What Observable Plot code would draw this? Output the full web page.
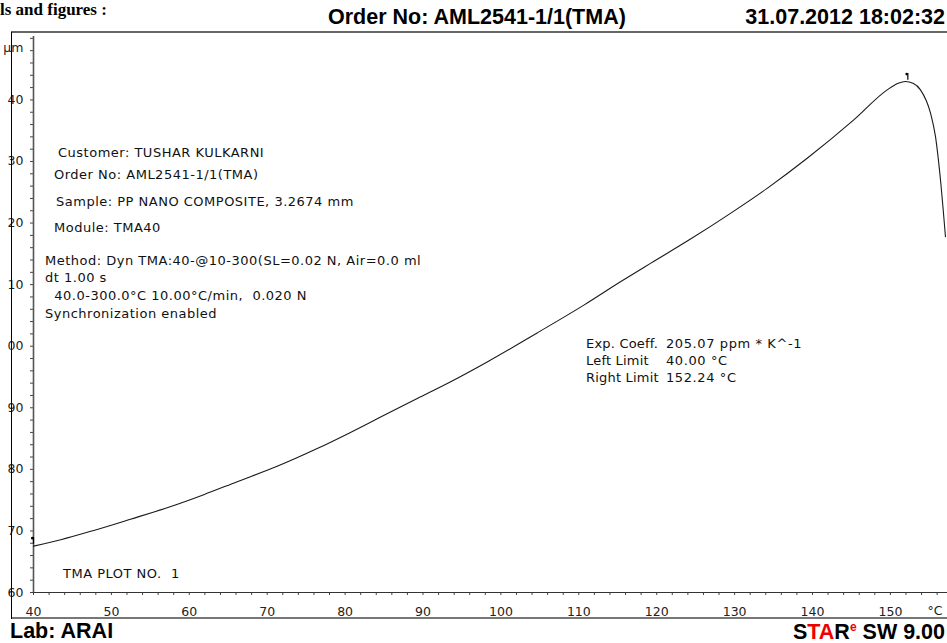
<!DOCTYPE html>
<html><head><meta charset="utf-8">
<script src="https://cdn.jsdelivr.net/npm/d3@7"></script>
<script src="https://cdn.jsdelivr.net/npm/@observablehq/plot@0.6"></script>
<style>
body{margin:0;background:#fff;}
#page{position:relative;width:947px;height:643px;overflow:hidden;background:#fff;font-family:"DejaVu Sans",sans-serif;color:#111;}
.t{position:absolute;white-space:pre;font-size:13px;letter-spacing:0.5px;line-height:1;transform:translateY(-50%);}
.r{position:absolute;white-space:pre;font-size:13px;letter-spacing:0.2px;line-height:1;transform:translateY(-50%);}
.h{position:absolute;white-space:pre;font-family:"Liberation Sans",Arial,sans-serif;font-weight:bold;font-size:21.5px;line-height:1;transform:translateY(-50%);color:#000;}
#chart{position:absolute;left:0px;top:33px;}
.line{position:absolute;}
</style></head>
<body><div id="page"></div>
<script>
// Temperature (°C) and probe position / length change (µm)
const temps   = [40.0, 43.5, 47.74, 52.45, 57.16, 61.86, 66.15, 71.28, 76.42, 80.69, 84.12, 89.26, 93.8, 98.24, 104.66, 110.65, 115.35, 119.2, 124.34, 129.47, 134.18, 139.32, 145.3, 149.59, 151.0, 151.94, 152.9, 153.86, 155.15, 155.79, 156.43, 157.07];
const lengths = [67.53, 68.57, 70.08, 71.9, 73.77, 75.89, 78.0, 80.49, 83.37, 86.0, 88.2, 91.5, 94.4, 97.45, 102.16, 106.67, 110.46, 113.45, 117.4, 121.58, 125.64, 130.52, 136.75, 141.63, 142.7, 142.98, 142.7, 141.63, 137.84, 134.03, 127.0, 117.77];
const xMinorTicks = d3.range(40, 157, 2);
const xLabelTicks = [40, 50, 60, 70, 80, 90, 100, 110, 120, 130, 140, 150];
const yMinorTicks = d3.range(60, 151, 2);
const yLabelTicks = [60, 70, 80, 90, 100, 110, 120, 130, 140];
// the report crops the y labels to their last two digits ("40" for 140, "00" for 100)
const yLabelText = ["60", "70", "80", "90", "00", "10", "20", "30", "40"];
const limits = [40.0, 152.24];
const xUnit = "°C";
const yUnit = "µm";

const infoLines = [
  ["Customer: TUSHAR KULKARNI", 58, 152],
  ["Order No: AML2541-1/1(TMA)", 54, 174],
  ["Sample: PP NANO COMPOSITE, 3.2674 mm", 56, 201],
  ["Module: TMA40", 54, 227],
  ["Method: Dyn TMA:40-@10-300(SL=0.02 N, Air=0.0 ml", 45, 260],
  ["dt 1.00 s", 45, 277],
  ["  40.0-300.0°C 10.00°C/min,  0.020 N", 45, 295],
  ["Synchronization enabled", 45, 313],
  ["TMA PLOT NO.  1", 63, 573]
];
const resultLabels = ["Exp. Coeff.", "Left Limit", "Right Limit"];
const resultValues = ["205.07 ppm * K^-1", "40.00 °C", "152.24 °C"];

const curve = temps.map((t, i) => ({t, v: lengths[i]}));
const interp = t => {
  const i = d3.bisectLeft(temps, t);
  if (i <= 0) return lengths[0];
  const a = i - 1, f = (t - temps[a]) / (temps[i] - temps[a]);
  return lengths[a] + f * (lengths[i] - lengths[a]);
};
const limitMarks = limits.map(t => ({t, v: interp(t)}));
const yLabelMap = new Map(yLabelTicks.map((v, i) => [v, yLabelText[i]]));

const page = document.getElementById("page");

const chart = Plot.plot({
  width: 947, height: 585,
  marginLeft: 33, marginRight: 0, marginTop: 3, marginBottom: 26,
  x: {domain: [40, 157.33]},
  y: {domain: [60, 150.3]},
  style: {fontFamily: "DejaVu Sans, sans-serif", fontSize: "12.5px", color: "#222", background: "transparent"},
  marks: [
    Plot.axisX(xMinorTicks, {tickSize: 3, tickFormat: () => "", stroke: "#444", label: null}),
    Plot.axisX(xLabelTicks, {tickSize: 0, tickPadding: 15, label: null, fill: "#222"}),
    Plot.axisY(yMinorTicks, {tickSize: 3, tickFormat: () => "", stroke: "#444", label: null}),
    Plot.axisY(yLabelTicks, {tickSize: 0, tickPadding: 10, label: null, fill: "#222", tickFormat: d => yLabelMap.get(d)}),
    Plot.ruleX([40], {stroke: "#555", strokeWidth: 1.6}),
    Plot.ruleY([60], {stroke: "#333", strokeWidth: 1.2}),
    Plot.line(curve, {x: "t", y: "v", stroke: "#1a1a1a", strokeWidth: 1.1, curve: "monotone-x"}),
    Plot.ruleX(limitMarks, {x: "t", y1: d => d.v + 0.3, y2: d => d.v + 1.4, stroke: "#000", strokeWidth: 1.2}),
    Plot.dot(limitMarks, {x: "t", y: d => d.v + 1.3, r: 1.3, fill: "#000", dx: -1.2}),
    Plot.text([yUnit], {frameAnchor: "top-left", dx: -10, dy: 7, textAnchor: "end", fill: "#222"}),
    Plot.text([xUnit], {frameAnchor: "bottom-right", dx: -5, dy: 22, textAnchor: "end", fill: "#222"})
  ]
});
chart.id = "chart";
page.appendChild(chart);

function addDiv(cls, text, x, y, extra) {
  const d = document.createElement("div");
  d.className = cls;
  d.textContent = text;
  d.style.left = x + "px";
  d.style.top = y + "px";
  if (extra) Object.assign(d.style, extra);
  page.appendChild(d);
  return d;
}
infoLines.forEach(([s, x, y]) => addDiv("t", s, x, y));
resultLabels.forEach((s, i) => addDiv("r", s, 586, 343 + i * 17));
resultValues.forEach((s, i) => addDiv("r", s, 666, 343 + i * 17, {letterSpacing: "0.6px"}));

// frame lines of the report page
const lines = [
  {left: "11px", top: "31px", width: "936px", height: "0px", borderTop: "2px solid #666"},
  {left: "11px", top: "617px", width: "936px", height: "0px", borderTop: "2px solid #777"},
  {left: "11px", top: "32px", width: "0px", height: "587px", borderLeft: "1px solid #000"}
];
lines.forEach(st => { const d = document.createElement("div"); d.className = "line"; Object.assign(d.style, st); page.appendChild(d); });

// header / footer
addDiv("h", "ls and figures :", 0, 9, {fontFamily: "Liberation Serif, serif", fontSize: "17px"});
addDiv("h", "Order No: AML2541-1/1(TMA)", 328, 18);
const date = addDiv("h", "31.07.2012 18:02:32", 0, 18);
date.style.left = ""; date.style.right = "2px";
addDiv("h", "Lab: ARAI", 10, 632);
const star = addDiv("h", "", 0, 632);
star.style.left = ""; star.style.right = "2px";
star.innerHTML = 'S<span style="color:#e00">TA</span>R<sup style="color:#e00;font-size:12px;vertical-align:8px">e</sup> SW 9.00';
</script>
</body></html>
